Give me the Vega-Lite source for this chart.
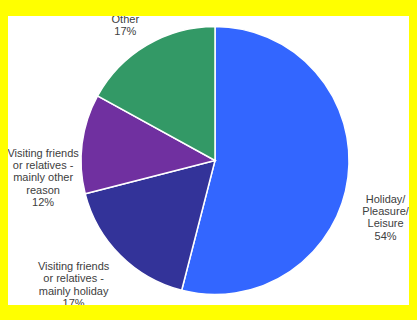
{
  "$schema": "https://vega.github.io/schema/vega-lite/v6.json",
  "width": 401,
  "height": 289,
  "padding": {"left": 8, "top": 16, "right": 8, "bottom": 15},
  "background": "#FFFF00",
  "view": {"fill": "white", "stroke": null},
  "data": {
    "values": [
      {"reason": "Holiday/Pleasure/Leisure", "share": 54, "order": 1, "label": "Holiday/\nPleasure/\nLeisure\n54%"},
      {"reason": "Visiting friends or relatives - mainly holiday", "share": 17, "order": 2, "label": "Visiting friends\nor relatives -\nmainly holiday\n17%"},
      {"reason": "Visiting friends or relatives - mainly other reason", "share": 12, "order": 3, "label": "Visiting friends\nor relatives -\nmainly other\nreason\n12%"},
      {"reason": "Other", "share": 17, "order": 4, "label": "Other\n17%"}
    ]
  },
  "encoding": {
    "theta": {"field": "share", "type": "quantitative", "stack": true},
    "order": {"field": "order", "type": "quantitative"}
  },
  "layer": [
    {
      "mark": {"type": "arc", "outerRadius": 134, "stroke": "white", "strokeWidth": 1.5, "xOffset": 6.5},
      "encoding": {
        "color": {
          "field": "reason",
          "type": "nominal",
          "sort": {"field": "order"},
          "scale": {
            "domain": ["Holiday/Pleasure/Leisure", "Visiting friends or relatives - mainly holiday", "Visiting friends or relatives - mainly other reason", "Other"],
            "range": ["#3366FF", "#333399", "#7030A0", "#339966"]
          },
          "legend": null
        }
      }
    },
    {
      "mark": {"type": "text", "radius": 175, "thetaOffset": 0.1, "xOffset": 6.5, "lineBreak": "\n", "font": "Liberation Sans", "fontSize": 11, "fill": "#404040", "align": "center", "baseline": "middle", "lineHeight": 12.3, "clip": true},
      "encoding": {"text": {"condition": {"test": "datum.order == 1", "field": "label"}, "value": ""}}
    },
    {
      "mark": {"type": "text", "radius": 177, "thetaOffset": 0.14, "xOffset": 6.5, "lineBreak": "\n", "font": "Liberation Sans", "fontSize": 11, "fill": "#404040", "align": "center", "baseline": "middle", "lineHeight": 12.3, "clip": true},
      "encoding": {"text": {"condition": {"test": "datum.order == 2", "field": "label"}, "value": ""}}
    },
    {
      "mark": {"type": "text", "radius": 172, "thetaOffset": -0.086, "xOffset": 6.5, "lineBreak": "\n", "font": "Liberation Sans", "fontSize": 11, "fill": "#404040", "align": "center", "baseline": "middle", "lineHeight": 12.3, "clip": true},
      "encoding": {"text": {"condition": {"test": "datum.order == 3", "field": "label"}, "value": ""}}
    },
    {
      "mark": {"type": "text", "radius": 167, "thetaOffset": -0.033, "xOffset": 6.5, "lineBreak": "\n", "font": "Liberation Sans", "fontSize": 11, "fill": "#404040", "align": "center", "baseline": "middle", "lineHeight": 12.3, "clip": true},
      "encoding": {"text": {"condition": {"test": "datum.order == 4", "field": "label"}, "value": ""}}
    }
  ]
}
